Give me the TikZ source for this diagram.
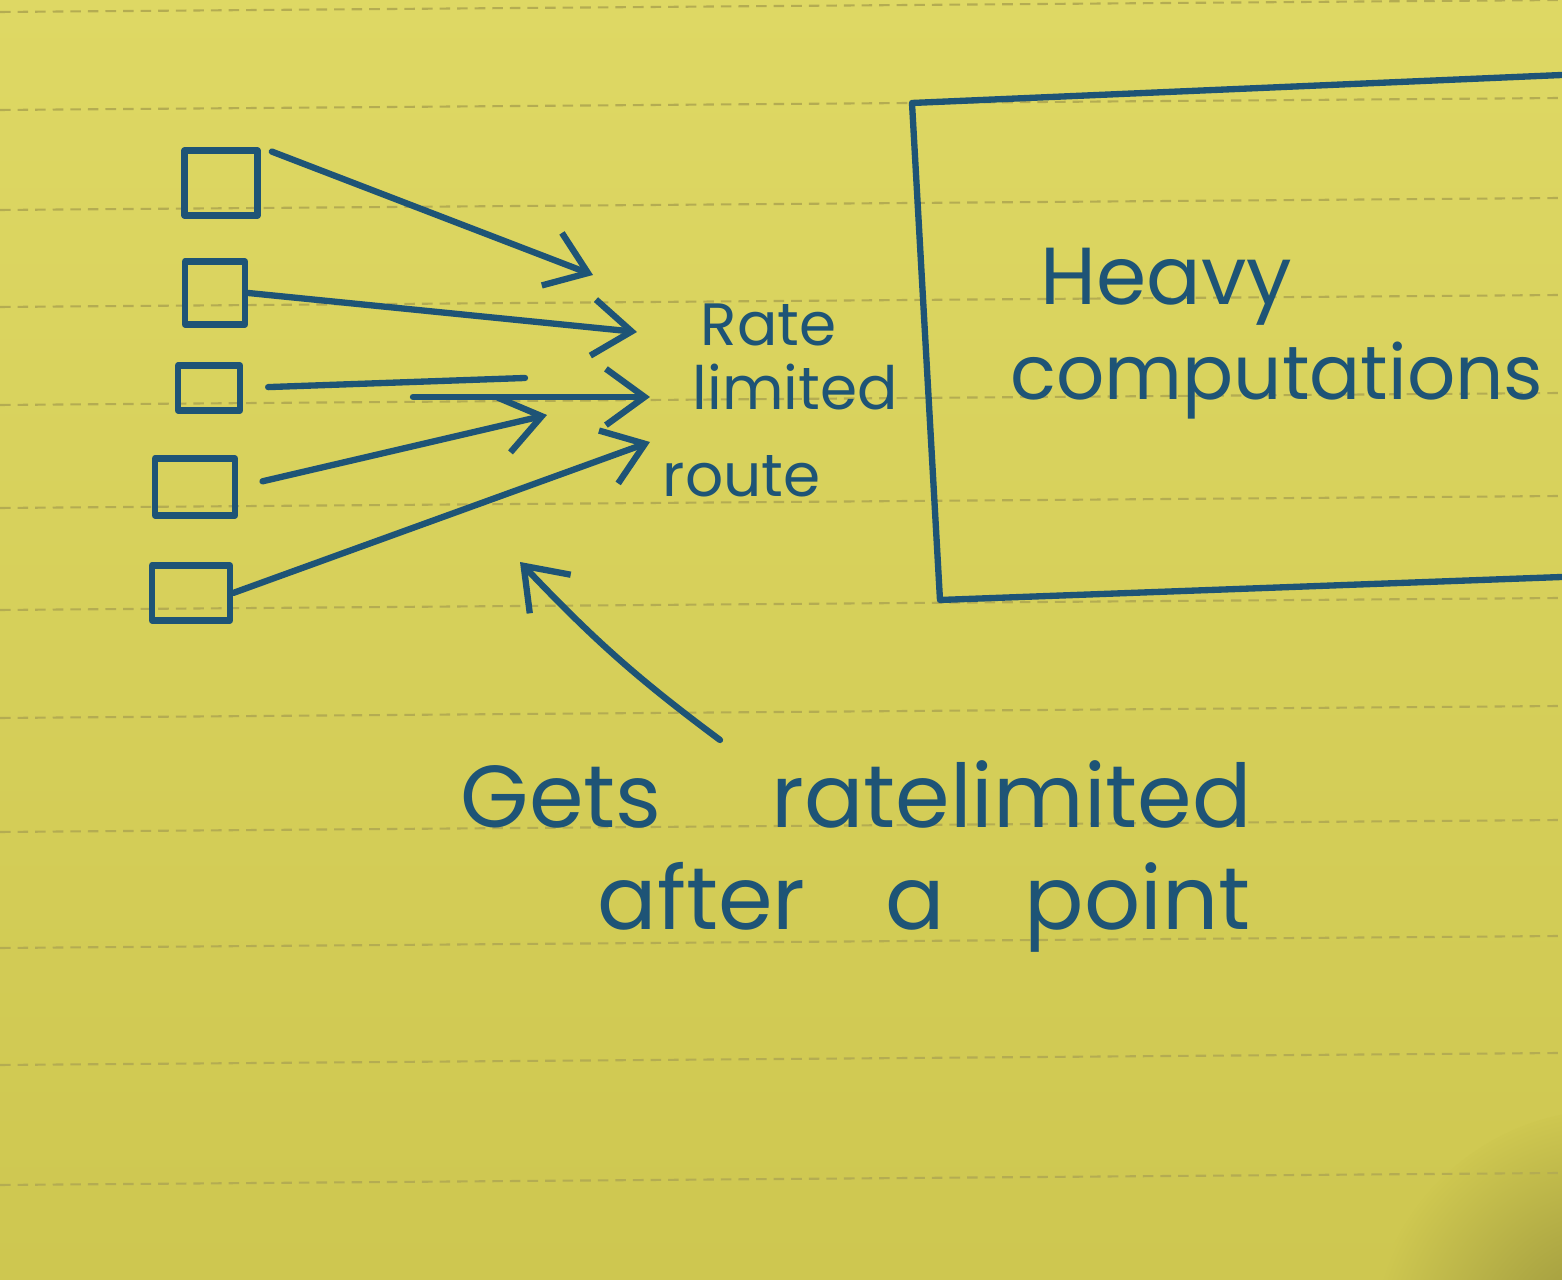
\documentclass[tikz,border=0pt]{standalone}
\usepackage{fontspec}
\setmainfont{Poppins}
\usetikzlibrary{arrows.meta,bending}
\definecolor{paper}{RGB}{222,216,100}
\definecolor{paperdk}{RGB}{206,199,80}
\definecolor{ruled}{RGB}{180,172,82}
\definecolor{ink}{RGB}{30,84,118}
\tikzset{
  pen/.style={draw=ink, line width=1.8pt, line cap=round, line join=round},
  req/.style={pen, -{Straight Barb[length=11pt,width=16pt]}},
  client/.style={pen, rectangle, inner sep=0pt},
  hand/.style={text=ink, inner sep=0pt, anchor=base west},
}
\begin{document}
\begin{tikzpicture}[x=0.01cm, y=-0.01cm]

% paper
\shade[top color=paper, bottom color=paperdk] (0,0) rectangle (1562,1280);
\useasboundingbox (0,0) rectangle (1562,1280);
\begin{scope}
  \clip (0,0) rectangle (1562,1280);
  \shade[inner color=paperdk!72!black, outer color=paperdk] (1610,1350) circle (2.4cm);
\end{scope}
\foreach \y in {12,110,210,307,405,508,610,718,832,948,1065,1185}
  \draw[ruled, line width=0.6pt, dash pattern=on 3pt off 2pt] (0,\y) -- (1562,\y-12);

% clients
\node[client, minimum width=0.73cm, minimum height=0.65cm] (a) at (221,183) {};
\node[client, minimum width=0.60cm, minimum height=0.63cm] (b) at (215,293) {};
\node[client, minimum width=0.62cm, minimum height=0.45cm] (c) at (209,388) {};
\node[client, minimum width=0.80cm, minimum height=0.57cm] (d) at (195,487) {};
\node[client, minimum width=0.78cm, minimum height=0.55cm] (e) at (191,593) {};

\coordinate (t1) at (593,275);
\coordinate (t2) at (637,332);
\coordinate (t3) at (650,397);
\coordinate (t4) at (547,415);
\coordinate (t5) at (650,442);
\coordinate (m1) at (525,378);
\coordinate (m2) at (413,397);

\draw[req, shorten <=0.12cm] (a.north east) -- (t1);
\draw[req] (b.east) -- (t2);
\draw[pen, shorten <=0.25cm] (c.east) -- (m1);
\draw[req] (m2) -- (t3);
\draw[req, shorten <=0.25cm] (d.east) -- (t4);
\draw[req] (e.east) -- (t5);

\node[hand, font=\fontsize{17}{20}\selectfont] (r1) at (700,346) {Rate};
\node[hand, font=\fontsize{17}{20}\selectfont] (r2) at (692,410) {limited};
\node[hand, font=\fontsize{17}{20}\selectfont] (r3) at (662,497) {route};

% heavy box
\draw[pen] (1562,75) -- (912,103) -- (940,600) -- (1562,577);
\node[hand, font=\fontsize{23}{26}\selectfont] (h1) at (1040,305) {Heavy};
\node[hand, font=\fontsize{21.5}{24}\selectfont] (h2) at (1010,400) {computations};

% note
\coordinate (u0) at (720,740);
\coordinate (u1) at (520,562);
\draw[req] (u0) to[bend left=5] (u1);
\node[hand, font=\fontsize{25}{30}\selectfont] (g1) at (460,828) {Gets\hspace{1.1cm}ratelimited};
\node[hand, font=\fontsize{25}{30}\selectfont] (g2) at (597,930) {after\hspace{0.8cm}a\hspace{0.8cm}point};

\end{tikzpicture}
\end{document}
